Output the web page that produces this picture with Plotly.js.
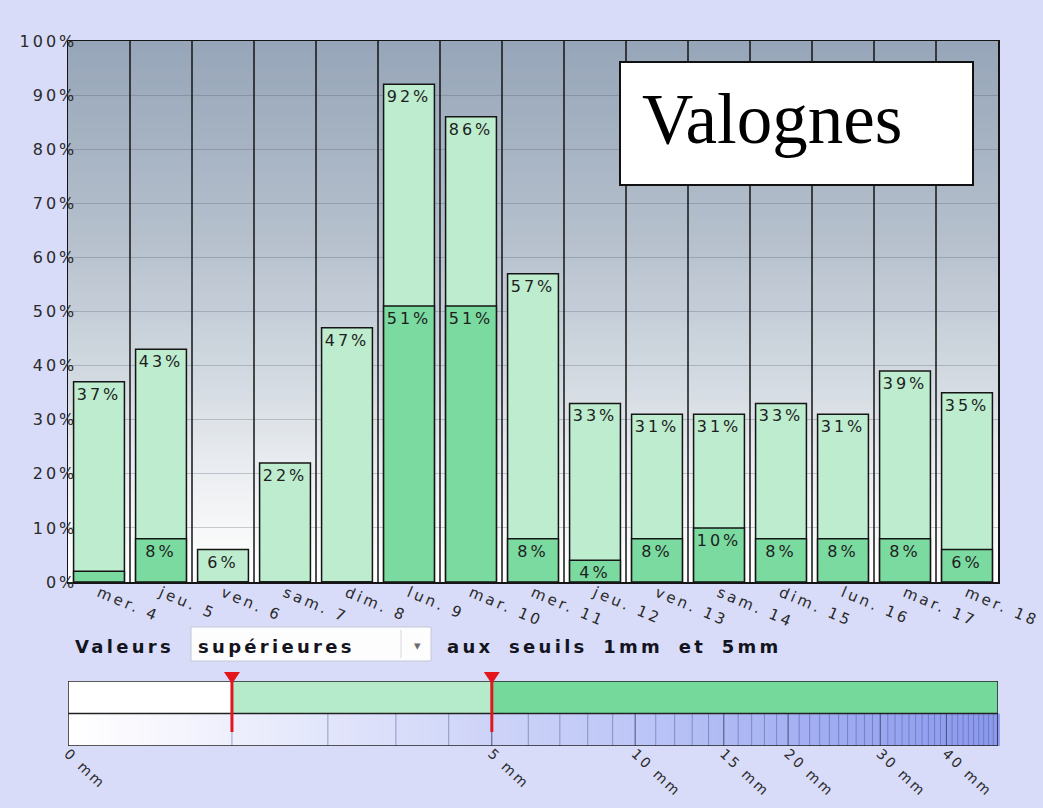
<!DOCTYPE html>
<html>
<head>
<meta charset="utf-8">
<script src="https://cdn.plot.ly/plotly-3.0.1.min.js"></script>
<style>
  html,body{margin:0;padding:0;background:#d8dcf9;}
  #chart{width:1043px;height:808px;}
  .xtick text,.ytick text{letter-spacing:3px;}
  .x2tick text{letter-spacing:2.5px;}
  .bartext{letter-spacing:3px;}
  .annotation[data-index="1"] text,
  .annotation[data-index="2"] text,
  .annotation[data-index="3"] text{letter-spacing:3.3px;word-spacing:6px;}
</style>
</head>
<body>
<div id="chart"></div>
<script>
// ---------------- DATA ----------------
const stationName = 'Valognes';
const categories = ['mer. 4','jeu. 5','ven. 6','sam. 7','dim. 8','lun. 9','mar. 10','mer. 11','jeu. 12','ven. 13','sam. 14','dim. 15','lun. 16','mar. 17','mer. 18'];
const pctAbove1mm = [37, 43, 6, 22, 47, 92, 86, 57, 33, 31, 31, 33, 31, 39, 35];
const pctAbove5mm = [2, 8, 0, 0, 0, 51, 51, 8, 4, 8, 10, 8, 8, 8, 6];
const labels1mm = ['37%','43%','6%','22%','47%','92%','86%','57%','33%','31%','31%','33%','31%','39%','35%'];
const labels5mm = ['','8%','','','','51%','51%','8%','4%','8%','10%','8%','8%','8%','6%'];
const yTickVals = [0,10,20,30,40,50,60,70,80,90,100];
const yTickText = ['0%','10%','20%','30%','40%','50%','60%','70%','80%','90%','100%'];
const thresholdsMm = [1, 5];
const sliderTickVals = [0, 5, 10, 15, 20, 30, 40];
const sliderTickText = ['0 mm','5 mm','10 mm','15 mm','20 mm','30 mm','40 mm'];
const sliderMaxMm = 50;
const selectorLabel = 'Valeurs';
const selectorValue = 'supérieures';
const selectorSuffix = 'aux seuils 1mm et 5mm';

// ---------------- LAYOUT GEOMETRY ----------------
const W = 1043, H = 808;
const L = 68, R = 998, T = 41, B = 746;
const ZERO_Y = 582;        // pixel row of the 0% line
const SLIDER_TOP = 681;    // pixel row of slider top
function xp(px){ return (px - L) / (R - L); }
function yp(py){ return (B - py) / (B - T); }
const sl = v => Math.log(1 + v);   // slider scale
const pxPerSl = (R - L) / sl(sliderMaxMm);

const colLight = '#bdeccf';
const colDark = '#7bdaa0';

function lerpStops(stops, t){
  for (let i = 0; i < stops.length - 1; i++){
    const a = stops[i], b = stops[i+1];
    if (t >= a[0] && t <= b[0]){
      const f = (t - a[0]) / (b[0] - a[0]);
      const c = [0,1,2].map(k => Math.round(a[1][k] + (b[1][k] - a[1][k]) * f));
      return 'rgb(' + c.join(',') + ')';
    }
  }
  const c = stops[stops.length-1][1];
  return 'rgb(' + c.join(',') + ')';
}

const shapes = [];
// plot background gradient (white at bottom -> grey-blue at top)
const bgStops = [[0,[255,255,255]],[0.06,[250,251,251]],[0.2,[235,238,241]],[0.4,[208,215,223]],[0.65,[180,191,204]],[1,[150,165,184]]];
for (let i = 0; i < 100; i++){
  shapes.push({type:'rect', layer:'below', xref:'paper', yref:'y', x0:0, x1:1, y0:i, y1:i+1.3,
    fillcolor: lerpStops(bgStops, (i+0.5)/100), line:{width:0}});
}
// category separators
for (let i = 1; i < categories.length; i++){
  shapes.push({type:'line', layer:'between', xref:'x', yref:'y', x0:i-0.5, x1:i-0.5, y0:0, y1:100,
    line:{color:'#151515', width:1.5}});
}
// slider lower band gradient
const slStops = [[0,[255,255,255]],[0.12,[244,245,253]],[0.45,[206,212,248]],[0.62,[188,197,246]],[0.8,[162,174,242]],[1,[138,152,238]]];
const NS = 93;
for (let i = 0; i < NS; i++){
  shapes.push({type:'rect', layer:'below', xref:'paper', yref:'y2', x0:i/NS, x1:(i+1)/NS + 0.002, y0:0, y1:1,
    fillcolor: lerpStops(slStops, (i+0.5)/NS), line:{width:0}});
}
// slider upper band: white / light green / dark green split by thresholds
const bandEdges = [0, thresholdsMm[0], thresholdsMm[1], sliderMaxMm];
const bandCols = ['#ffffff', '#b5ebca', '#74d99b'];
for (let i = 0; i < 3; i++){
  shapes.push({type:'rect', layer:'below', xref:'x2', yref:'y2', x0:sl(bandEdges[i]), x1:sl(bandEdges[i+1]), y0:1, y1:2,
    fillcolor: bandCols[i], line:{width:0}});
}
// slider tick lines (every mm)
for (let mm = 1; mm < sliderMaxMm; mm++){
  const major = sliderTickVals.indexOf(mm) >= 0;
  shapes.push({type:'line', layer:'below', xref:'x2', yref:'y2', x0:sl(mm), x1:sl(mm), y0:-0.12, y1:1,
    line:{color: major ? 'rgba(55,60,100,0.85)' : 'rgba(90,98,150,0.55)', width:1}});
}
// slider borders
shapes.push({type:'rect', layer:'below', xref:'x2', yref:'y2', x0:0, x1:sl(sliderMaxMm), y0:0, y1:2,
  fillcolor:'rgba(0,0,0,0)', line:{color:'#222', width:1.5}});
shapes.push({type:'line', layer:'below', xref:'x2', yref:'y2', x0:0, x1:sl(sliderMaxMm), y0:1, y1:1,
  line:{color:'#222', width:1.5}});
// threshold markers (red stem + down triangle)
const triHalf = 8 / pxPerSl;
thresholdsMm.forEach(t => {
  const u = sl(t);
  shapes.push({type:'line', layer:'above', xref:'x2', yref:'paper', x0:u, x1:u, y0:yp(732), y1:yp(676),
    line:{color:'#e3161e', width:3}});
  shapes.push({type:'path', layer:'above', xref:'x2', yref:'paper',
    path:'M' + (u - triHalf) + ',' + yp(672) + ' L' + (u + triHalf) + ',' + yp(672) + ' L' + u + ',' + yp(684) + ' Z',
    fillcolor:'#e3161e', line:{width:0}});
});
// dropdown box (UI widget)
shapes.push({type:'rect', layer:'above', xref:'paper', yref:'paper', x0:xp(191), x1:xp(431), y0:yp(661), y1:yp(627),
  fillcolor:'#fdfdfd', line:{color:'#c4c7d6', width:1}});
shapes.push({type:'line', layer:'above', xref:'paper', yref:'paper', x0:xp(401), x1:xp(401), y0:yp(658), y1:yp(630),
  line:{color:'#d6d8e2', width:1}});
// title box
shapes.push({type:'rect', layer:'above', xref:'paper', yref:'paper', x0:xp(620), x1:xp(973), y0:yp(185), y1:yp(62),
  fillcolor:'#ffffff', line:{color:'#111', width:2}});

const annotations = [
  {text: stationName, xref:'paper', yref:'paper', x:xp(640), y:yp(119), xanchor:'left', yanchor:'middle', align:'left',
   showarrow:false, font:{family:'Liberation Serif, Times New Roman, serif', size:71, color:'#000'}},
  {text: selectorLabel, xref:'paper', yref:'paper', x:xp(73), y:yp(646), xanchor:'left', yanchor:'middle', align:'left',
   showarrow:false, font:{family:'DejaVu Sans', size:18, weight:'bold', color:'#14141e'}},
  {text: selectorValue, xref:'paper', yref:'paper', x:xp(196), y:yp(646), xanchor:'left', yanchor:'middle', align:'left',
   showarrow:false, font:{family:'DejaVu Sans', size:18, weight:'bold', color:'#14141e'}},
  {text: selectorSuffix, xref:'paper', yref:'paper', x:xp(445), y:yp(646), xanchor:'left', yanchor:'middle', align:'left',
   showarrow:false, font:{family:'DejaVu Sans', size:18, weight:'bold', color:'#14141e'}},
  {text: '▾', xref:'paper', yref:'paper', x:xp(417), y:yp(645), xanchor:'center', yanchor:'middle',
   showarrow:false, font:{family:'DejaVu Sans', size:13, color:'#6a6a72'}}
];

const tickFont = {family:'DejaVu Sans', size:15, color:'#2a2a2a'};

const traces = [
  {type:'bar', x:categories, y:pctAbove1mm, text:labels1mm, textposition:'inside', insidetextanchor:'end',
   textangle:0, constraintext:'none', textfont:{family:'DejaVu Sans', size:16, color:'#1e1e1e'},
   marker:{color:colLight, line:{color:'#151515', width:1.5}}, width:0.82, xaxis:'x', yaxis:'y', hoverinfo:'skip'},
  {type:'bar', x:categories, y:pctAbove5mm, text:labels5mm, textposition:'inside', insidetextanchor:'end',
   textangle:0, constraintext:'none', textfont:{family:'DejaVu Sans', size:16, color:'#1e1e1e'},
   marker:{color:colDark, line:{color:'#151515', width:1.5}}, width:0.82, xaxis:'x', yaxis:'y', hoverinfo:'skip'}
];

const layout = {
  width:W, height:H,
  margin:{l:L, r:W-R, t:T, b:H-B, pad:0},
  paper_bgcolor:'#d8dcf9', plot_bgcolor:'rgba(0,0,0,0)',
  barmode:'overlay', showlegend:false, hovermode:false,
  font:{family:'DejaVu Sans'},
  xaxis:{domain:[0,1], anchor:'y', type:'category', range:[-0.5, categories.length-0.5],
    showgrid:false, zeroline:false, showline:true, mirror:true, linecolor:'#151515', linewidth:1.5,
    ticks:'', tickangle:23, ticklabelstandoff:-5, tickfont:tickFont, fixedrange:true},
  yaxis:{domain:[yp(ZERO_Y), 1], anchor:'x', range:[0,100], tickmode:'array', tickvals:yTickVals, ticktext:yTickText,
    showgrid:true, gridcolor:'rgba(70,85,105,0.28)', gridwidth:1, zeroline:false,
    showline:true, mirror:true, linecolor:'#151515', linewidth:1.5, ticks:'', ticklabelstandoff:-14,
    tickfont:{family:'DejaVu Sans', size:16, color:'#2a2a2a'}, fixedrange:true},
  xaxis2:{domain:[0,1], anchor:'y2', range:[0, sl(sliderMaxMm)], tickmode:'array',
    tickvals:sliderTickVals.map(sl), ticktext:sliderTickText, tickangle:43, ticklabelstandoff:-4,
    showgrid:false, zeroline:false, showline:false, ticks:'', tickfont:{family:'DejaVu Sans', size:14, color:'#2a2a2a'}, fixedrange:true},
  yaxis2:{domain:[0, yp(SLIDER_TOP)], anchor:'x2', range:[0,2], visible:false, fixedrange:true},
  shapes:shapes,
  annotations:annotations
};

Plotly.newPlot('chart', traces, layout, {displayModeBar:false, staticPlot:true});
</script>
</body>
</html>
